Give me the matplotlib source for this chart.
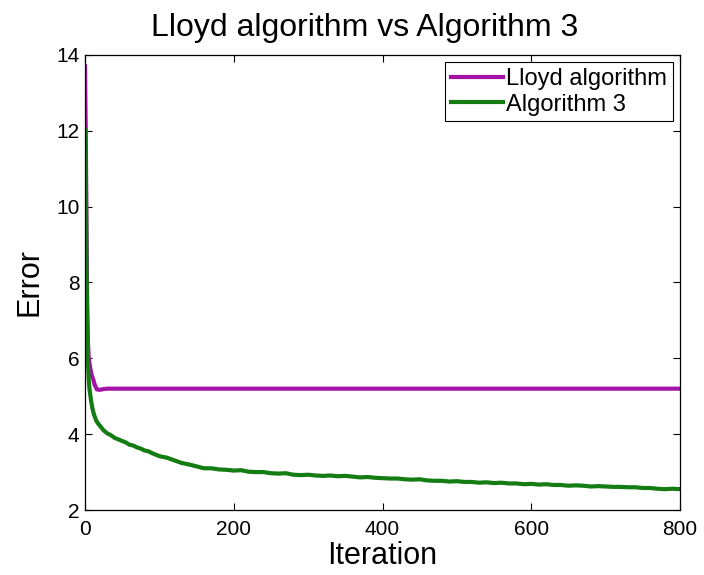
import matplotlib
matplotlib.use("Agg")
import matplotlib.pyplot as plt

plt.rcParams['font.family'] = ['Liberation Sans', 'DejaVu Sans']

# Lloyd algorithm error per iteration
lloyd_iter = [0, 1, 2, 3, 4, 5, 7, 9, 11, 13, 16, 20, 25, 30, 800]
lloyd_err = [13.7, 12.0, 9.5, 7.3, 6.4, 6.0, 5.75, 5.55, 5.45, 5.3, 5.18, 5.17, 5.19, 5.2, 5.2]

# Algorithm 3 error per iteration
alg3_iter = [0, 1, 2, 3, 4, 5, 6, 8, 10, 12, 15, 18, 21, 25, 30, 35, 40, 45, 50,
             55, 60, 65, 70, 75, 80, 85, 90, 95] + list(range(100, 801, 10))
alg3_err = [12.0, 11.2, 8.5, 6.8, 5.9, 5.45, 5.2, 4.9, 4.68, 4.52, 4.36, 4.27, 4.2,
            4.1, 4.02, 3.97, 3.9, 3.86, 3.82, 3.78, 3.72, 3.70, 3.65, 3.62, 3.57,
            3.55, 3.50, 3.46,
            3.42, 3.38, 3.31, 3.24, 3.20, 3.15, 3.10, 3.10, 3.07, 3.06,
            3.04, 3.05, 3.01, 3.00, 3.00, 2.97, 2.96, 2.97, 2.93, 2.92,
            2.93, 2.91, 2.90, 2.91, 2.89, 2.90, 2.88, 2.86, 2.87, 2.85,
            2.84, 2.83, 2.83, 2.81, 2.80, 2.81, 2.78, 2.77, 2.77, 2.75,
            2.76, 2.74, 2.74, 2.72, 2.73, 2.71, 2.72, 2.70, 2.70, 2.68,
            2.69, 2.67, 2.68, 2.66, 2.66, 2.64, 2.65, 2.64, 2.62, 2.63,
            2.62, 2.61, 2.61, 2.60, 2.60, 2.58, 2.58, 2.56, 2.55, 2.56,
            2.55]

xticks = [0, 200, 400, 600, 800]
yticks = [2, 4, 6, 8, 10, 12, 14]

fig = plt.figure(figsize=(7.04, 5.75), dpi=100)
ax = fig.add_axes([85 / 704, 1 - 510 / 575, 595 / 704, 455 / 575])

ax.plot(lloyd_iter, lloyd_err, color='#a512a8', lw=3, label='Lloyd algorithm')
ax.plot(alg3_iter, alg3_err, color='#137d13', lw=3, label='Algorithm 3')

ax.set_xlim(0, 800)
ax.set_ylim(2, 14)
ax.set_xticks(xticks)
ax.set_yticks(yticks)
ax.tick_params(direction='in', top=True, right=True, length=5, width=0.8,
               labelsize=15)
ax.tick_params(axis='x', pad=7)
ax.tick_params(axis='y', pad=4)
for s in ax.spines.values():
    s.set_linewidth(0.9)

ax.set_title('Lloyd algorithm vs Algorithm 3', fontsize=23, pad=14, x=0.47)
ax.set_xlabel('Iteration', fontsize=22, labelpad=2)
ax.set_ylabel('Error', fontsize=22, labelpad=8)

leg = ax.legend(loc='upper right', fontsize=17, fancybox=False, edgecolor='black',
                framealpha=1, borderaxespad=0.3, handlelength=2.2,
                handletextpad=0.15, borderpad=0.25, labelspacing=0.15)
leg.get_frame().set_linewidth(0.8)

fig.savefig('out.png', dpi=100)
